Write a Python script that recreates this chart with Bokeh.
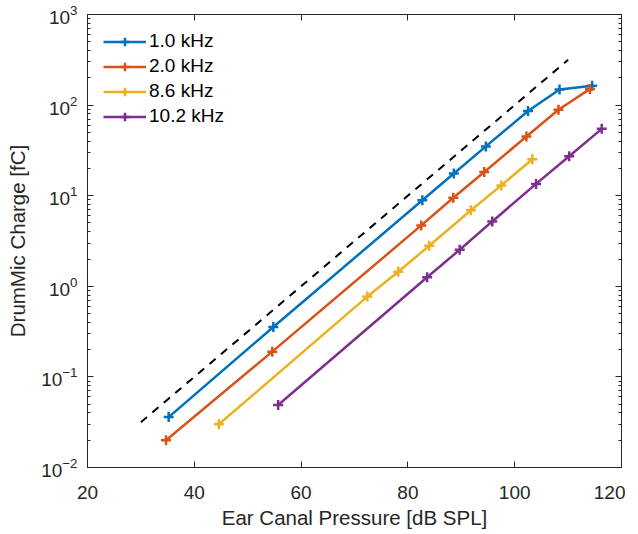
from bokeh.plotting import figure
from bokeh.models import LinearAxis, LogAxis, FixedTicker, LogTicker, Legend, LegendItem, Range1d
from bokeh.embed import file_html
from bokeh.resources import INLINE

# data
labels = ["1.0 kHz", "2.0 kHz", "8.6 kHz", "10.2 kHz"]
colors = ["#0072BD", "#D95319", "#EDB120", "#7E2F8E"]
x_1k = [35.2, 54.8, 82.7, 88.6, 94.6, 102.5, 108.4, 114.5]
y_1k = [0.036, 0.355, 8.9, 17.6, 35, 86, 149, 164]
x_2k = [34.7, 54.6, 82.5, 88.5, 94.3, 102.2, 108.2, 114.1]
y_2k = [0.020, 0.19, 4.7, 9.5, 18.3, 45, 89, 151]
x_86k = [44.6, 72.4, 78.2, 84.0, 91.8, 97.5, 103.3]
y_86k = [0.030, 0.77, 1.45, 2.8, 6.9, 13, 25.3]
x_102k = [55.7, 83.6, 89.7, 95.8, 104.0, 110.2, 116.3]
y_102k = [0.049, 1.26, 2.53, 5.2, 13.5, 27.3, 54.7]
ref_x = [30, 110]
ref_y = [10 ** -1.5, 10 ** 2.5]
x_ticks = [20, 40, 60, 80, 100, 120]

FONT = "Liberation Sans"
TXT = "#262626"

p = figure(output_backend="svg", toolbar_location=None,
           frame_width=534, frame_height=453,
           x_range=Range1d(20, 120), y_range=Range1d(1e-2, 1e3),
           y_axis_type="log",
           min_border_left=87, min_border_top=14, min_border_right=4, min_border_bottom=50,
           background_fill_color="white", border_fill_color="white")
p.outline_line_color = None
p.xgrid.visible = False
p.ygrid.visible = False

def style(ax, labels_on=True):
    ax.axis_line_color = TXT
    ax.axis_line_width = 1
    ax.major_tick_line_color = TXT
    ax.minor_tick_line_color = TXT
    ax.major_tick_in = 6
    ax.major_tick_out = 0
    ax.minor_tick_in = 3
    ax.minor_tick_out = 0
    ax.major_label_text_font = FONT
    ax.major_label_text_font_size = "19px"
    ax.major_label_text_color = TXT
    ax.axis_label_text_font = FONT
    ax.axis_label_text_font_size = "20.5px"
    ax.axis_label_text_color = TXT
    ax.axis_label_text_font_style = "normal"
    if not labels_on:
        ax.major_label_text_font_size = "0px"
        ax.major_label_text_alpha = 0

xa = p.xaxis[0]
xa.ticker = FixedTicker(ticks=x_ticks)
xa.axis_label = "Ear Canal Pressure [dB SPL]"
style(xa)
xa.major_label_standoff = 18
xa.axis_label_standoff = 4

ya = p.yaxis[0]
ya.ticker = LogTicker(num_minor_ticks=10)
ya.axis_label = "DrumMic Charge [fC]"
style(ya)
ya.major_label_standoff = 10
ya.axis_label_standoff = 9

top = LinearAxis(ticker=FixedTicker(ticks=x_ticks))
style(top, False)
top.major_label_standoff = 0
p.add_layout(top, "above")
right = LogAxis(ticker=LogTicker(num_minor_ticks=10))
style(right, False)
right.major_label_standoff = 0
p.add_layout(right, "right")

p.line(ref_x, ref_y, line_color="black", line_width=2, line_dash="8 7")

items = []
for xs, ys, c, lab in zip([x_1k, x_2k, x_86k, x_102k], [y_1k, y_2k, y_86k, y_102k], colors, labels):
    l = p.line(xs, ys, line_color=c, line_width=2.5)
    s = p.scatter(xs, ys, marker="cross", size=10, line_color=c, line_width=2.5)
    items.append(LegendItem(label=lab, renderers=[l, s]))

leg = Legend(items=items, location="top_left")
leg.margin = 8
leg.padding = 8
leg.spacing = 3
leg.glyph_width = 43
leg.glyph_height = 21
leg.label_height = 21
leg.label_standoff = 3
leg.label_text_font = FONT
leg.label_text_font_size = "19px"
leg.label_text_color = "black"
leg.background_fill_alpha = 0
leg.border_line_alpha = 0
p.add_layout(leg)

open("out.html", "w").write(file_html(p, INLINE))
